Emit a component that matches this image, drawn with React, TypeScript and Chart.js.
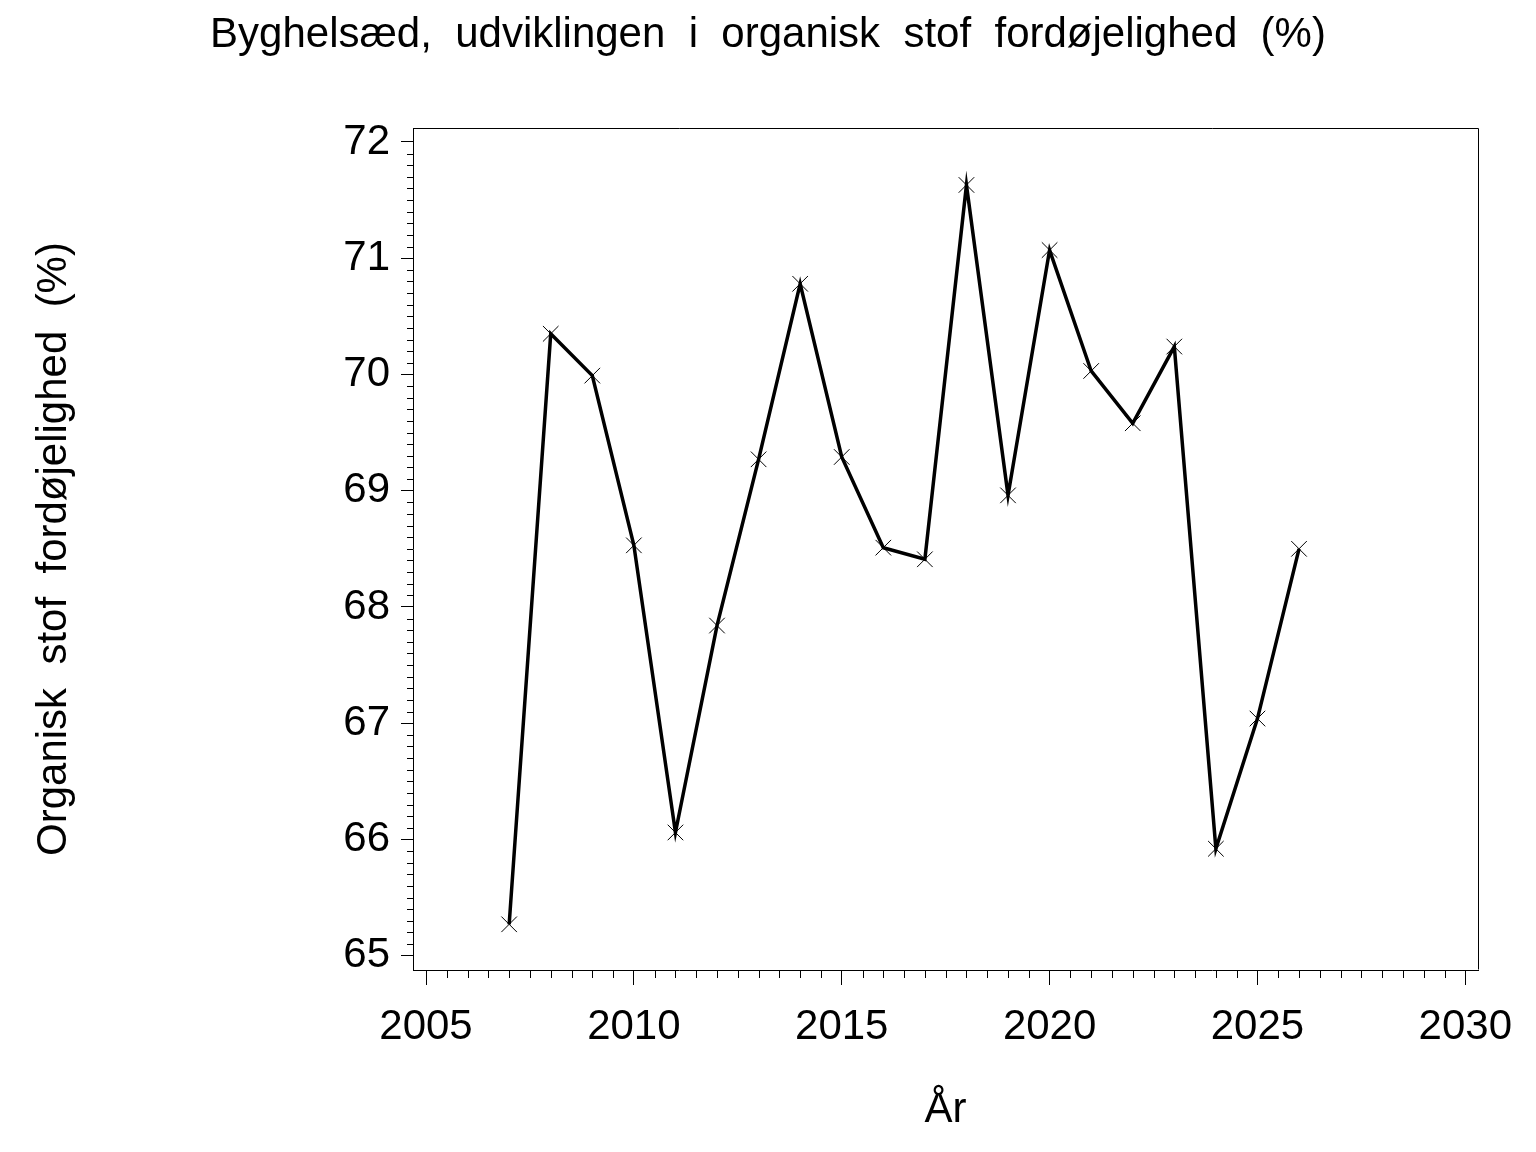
import { useEffect, useRef } from 'react';
import { Chart, registerables } from 'chart.js';

Chart.register(...registerables);

const years = [2007, 2008, 2009, 2010, 2011, 2012, 2013, 2014, 2015, 2016, 2017, 2018, 2019, 2020, 2021, 2022, 2023, 2024, 2025, 2026];
const digestibility = [65.27, 70.35, 69.99, 68.53, 66.06, 67.84, 69.27, 70.78, 69.29, 68.51, 68.41, 71.63, 68.96, 71.07, 70.03, 69.58, 70.24, 65.92, 67.04, 68.5];
const xTickValues = [2005, 2010, 2015, 2020, 2025, 2030];
const yTickValues = [65, 66, 67, 68, 69, 70, 71, 72];
const titleText = 'Byghelsæd,  udviklingen  i  organisk  stof  fordøjelighed  (%)';
const yTitleText = 'Organisk  stof  fordøjelighed  (%)';
const xTitleText = 'År';

const FONT = '"Liberation Sans", Arial, Helvetica, sans-serif';

const framePlugin = {
  id: 'frameAndMinorTicks',
  afterDraw(chart: any) {
    const { ctx, chartArea: a, scales } = chart;
    const xs = scales.x;
    const ys = scales.y;
    ctx.save();
    ctx.strokeStyle = '#000';
    ctx.lineWidth = 1;
    ctx.beginPath();
    const l = Math.round(a.left) + 0.5;
    const r = Math.round(a.right) + 0.5;
    const t = Math.round(a.top) + 0.5;
    const b = Math.round(a.bottom) - 0.5;
    ctx.moveTo(l, t);
    ctx.lineTo(r, t);
    ctx.lineTo(r, b);
    ctx.stroke();
    // minor ticks on y (every 0.1)
    ctx.beginPath();
    const y0 = yTickValues[0] * 10;
    const y1 = yTickValues[yTickValues.length - 1] * 10;
    for (let i = y0; i <= y1; i++) {
      if (i % 10 === 0) continue;
      const py = Math.round(ys.getPixelForValue(i / 10)) + 0.5;
      ctx.moveTo(a.left - 6, py);
      ctx.lineTo(a.left, py);
    }
    // minor ticks on x (every 0.5)
    const x0 = xTickValues[0] * 2;
    const x1 = xTickValues[xTickValues.length - 1] * 2;
    for (let i = x0; i <= x1; i++) {
      if (i % 10 === 0) continue;
      const px = Math.round(xs.getPixelForValue(i / 2)) + 0.5;
      ctx.moveTo(px, a.bottom);
      ctx.lineTo(px, a.bottom + 8);
    }
    ctx.stroke();
    ctx.restore();
  },
};

export default function App() {
  const canvasRef = useRef<HTMLCanvasElement | null>(null);

  useEffect(() => {
    document.body.style.margin = '0';
    const canvas = canvasRef.current;
    if (!canvas) return;
    const chart = new Chart(canvas, {
      type: 'line',
      data: {
        datasets: [
          {
            label: 'Organisk stof fordøjelighed',
            data: years.map((yr, i) => ({ x: yr, y: digestibility[i] })),
            borderColor: '#000',
            backgroundColor: '#000',
            borderWidth: 3.5,
            tension: 0,
            pointStyle: 'crossRot',
            pointRadius: 11,
            pointHoverRadius: 11,
            pointBorderWidth: 1,
            pointBorderColor: '#000',
            fill: false,
          },
        ],
      },
      options: {
        animation: false,
        responsive: false,
        devicePixelRatio: 1,
        events: [],
        layout: { padding: 0 },
        plugins: {
          legend: { display: false },
          tooltip: { enabled: false },
          title: {
            display: true,
            text: titleText,
            color: '#000',
            font: { family: FONT, size: 42, weight: 'normal' },
            padding: { top: 10.2, bottom: 67.4 },
          },
        },
        scales: {
          x: {
            type: 'linear',
            min: 2004.687,
            max: 2030.305,
            afterBuildTicks: (s: any) => {
              s.ticks = xTickValues.map((v) => ({ value: v }));
            },
            afterFit: (s: any) => {
              s.height = 182;
            },
            grid: { drawOnChartArea: false, drawTicks: true, tickLength: 15, color: '#000', lineWidth: 1 },
            border: { display: true, color: '#000', width: 1 },
            ticks: {
              color: '#000',
              font: { family: FONT, size: 42 },
              padding: 17,
              maxRotation: 0,
              autoSkip: false,
              callback: (v: any) => String(v),
            },
            title: {
              display: true,
              text: xTitleText,
              color: '#000',
              font: { family: FONT, size: 42 },
              padding: { top: 0, bottom: 16 },
            },
          },
          y: {
            type: 'linear',
            position: 'left',
            min: 64.877,
            max: 72.12,
            afterBuildTicks: (s: any) => {
              s.ticks = yTickValues.map((v) => ({ value: v }));
            },
            afterFit: (s: any) => {
              s.width = 413;
            },
            grid: { drawOnChartArea: false, drawTicks: true, tickLength: 12, color: '#000', lineWidth: 1 },
            border: { display: true, color: '#000', width: 1 },
            ticks: {
              color: '#000',
              font: { family: FONT, size: 42 },
              padding: 11,
              autoSkip: false,
              callback: (v: any) => String(v),
            },
            title: {
              display: true,
              text: yTitleText,
              color: '#000',
              font: { family: FONT, size: 42 },
              padding: { top: 29, bottom: 0 },
            },
          },
          rightSpace: {
            type: 'linear',
            position: 'right',
            display: true,
            min: 64.877,
            max: 72.12,
            afterFit: (s: any) => {
              s.width = 58;
            },
            grid: { display: false, drawOnChartArea: false, drawTicks: false },
            border: { display: false },
            ticks: { display: false },
            title: { display: false },
          },
        },
      },
      plugins: [framePlugin],
    });
    return () => {
      chart.destroy();
    };
  }, []);

  return (
    <div style={{ width: 1536, height: 1152 }}>
      <canvas ref={canvasRef} width={1536} height={1152} style={{ display: 'block', width: 1536, height: 1152 }} />
    </div>
  );
}
